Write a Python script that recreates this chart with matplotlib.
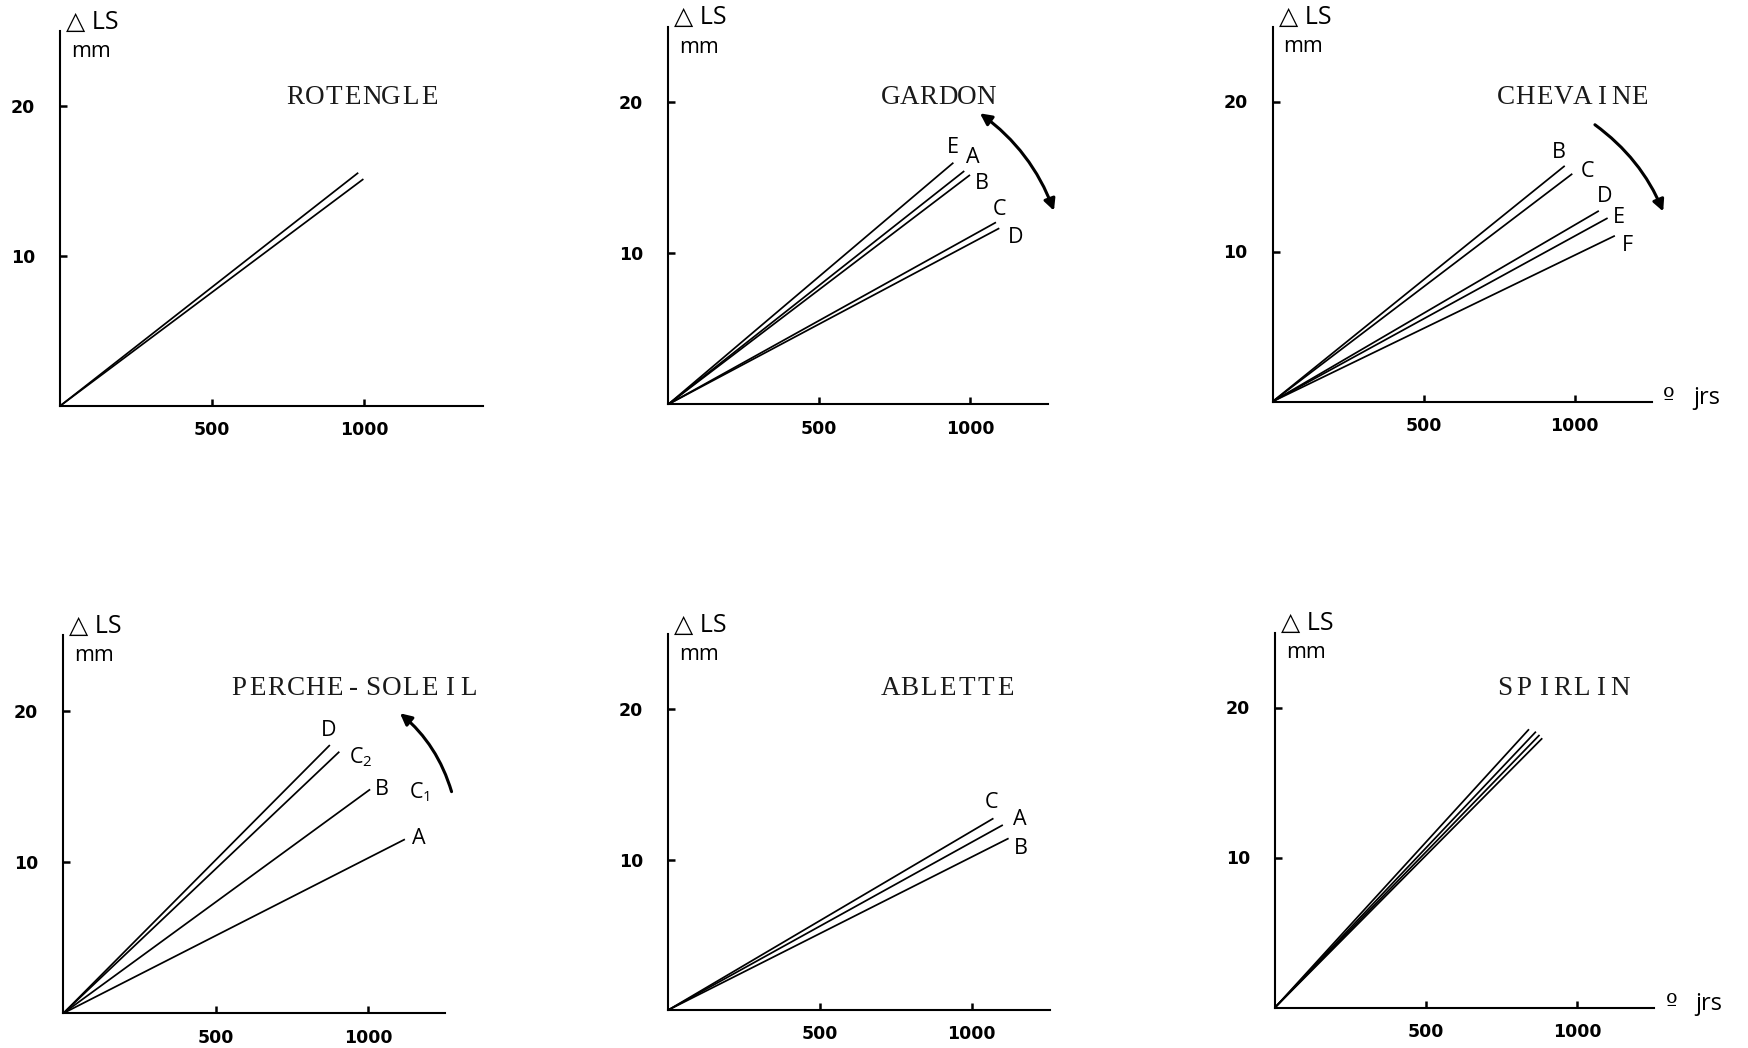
import matplotlib
matplotlib.use('Agg')
import matplotlib.pyplot as plt

W, H = 1749, 1048

# ---------------- data ----------------
titles = ['ROTENGLE', 'GARDON', 'CHEVAINE', 'PERCHE-SOLEIL', 'ABLETTE', 'SPIRLIN']
x_ticks = [500, 1000]
y_ticks = [10, 20]

rot_series = ['', '']
rot_x = [981, 998]
rot_y = [15.55, 15.13]

gar_series = ['E', 'A', 'B', 'C', 'D']
gar_x = [944, 980, 999, 1085, 1096]
gar_y = [16.0, 15.45, 15.19, 12.05, 11.66]

che_series = ['B', 'C', 'D', 'E', 'F']
che_x = [967, 992, 1080, 1109, 1133]
che_y = [15.71, 15.18, 12.71, 12.23, 11.05]

per_series = ['D', r'C$\mathregular{_2}$', 'B', 'A']
per_x = [874, 905, 1006, 1120]
per_y = [17.73, 17.29, 14.80, 11.50]

abl_series = ['C', 'A', 'B']
abl_x = [1072, 1103, 1122]
abl_y = [12.75, 12.31, 11.42]

spi_series = ['', '', '', '']
spi_x = [841, 864, 876, 885]
spi_y = [18.55, 18.39, 18.17, 17.95]

panels_data = [
    (rot_series, rot_x, rot_y),
    (gar_series, gar_x, gar_y),
    (che_series, che_x, che_y),
    (per_series, per_x, per_y),
    (abl_series, abl_x, abl_y),
    (spi_series, spi_x, spi_y),
]

# ---------------- layout / style ----------------
# origin pixel (x, y from top), px per x unit, px per y unit, x max
geom = [
    (60.0, 406.0, 0.304, 15.0, 1391),
    (668.3, 404.3, 0.302, 15.1, 1256),
    (1272.7, 401.5, 0.302, 15.0, 1255),
    (63.3, 1013.3, 0.305, 15.13, 1251),
    (668.3, 1010.0, 0.3033, 15.03, 1258),
    (1275.0, 1007.5, 0.302, 15.0, 1255),
]
YMAX = 25
title_pos = [(994, 20.8), (894, 20.55), (994, 20.5), (951, 21.7), (921, 21.6), (952, 21.45)]
TITLE_PITCH = 13.8  # points between typewriter characters

label_off = [
    [],
    [(-0.7, 11.1), (5.8, 9.9), (8.4, -6.0), (2.9, 8.9), (11.5, -6.5)],
    [(-4.5, 9.9), (11.3, 1.4), (4.1, 10.1), (7.9, 0.7), (9.1, -7.2)],
    [(-1.2, 10.8), (15.4, -3.6), (8.4, 0.0), (10.0, 0.7)],
    [(-1.2, 11.5), (12.2, 4.3), (8.9, -7.2)],
    [],
]

SANS = ['Open Sans', 'DejaVu Sans']
SERIF = ['Liberation Serif', 'DejaVu Serif']

fig = plt.figure(figsize=(W / 100, H / 100), dpi=100)
fig.patch.set_facecolor('white')

axes = []
for i, (ox, oy, sx, sy, xmax) in enumerate(geom):
    rect = [ox / W, (H - oy) / H, xmax * sx / W, YMAX * sy / H]
    ax = fig.add_axes(rect)
    ax.set_xlim(0, xmax)
    ax.set_ylim(0, YMAX)
    ax.patch.set_alpha(0)
    for s in ['top', 'right']:
        ax.spines[s].set_visible(False)
    for s in ['left', 'bottom']:
        ax.spines[s].set_linewidth(1.5)
    ax.set_xticks(x_ticks)
    ax.set_yticks(y_ticks)
    ax.tick_params(axis='both', direction='in', length=5, width=1.8)
    ax.tick_params(axis='y', pad=18)
    ax.tick_params(axis='x', pad=11)
    for lab in ax.get_xticklabels() + ax.get_yticklabels():
        lab.set_fontweight('bold')
        lab.set_fontsize(12.5)
        lab.set_family('DejaVu Sans')

    series, xs, ys = panels_data[i]
    for j, (lbl, xe, ye) in enumerate(zip(series, xs, ys)):
        ax.plot([0, xe], [0, ye], color='black', lw=1.25, solid_capstyle='butt',
                clip_on=False)
        if lbl:
            dx, dy = label_off[i][j]
            ax.annotate(lbl, xy=(xe, ye), xytext=(dx, dy), textcoords='offset points',
                        ha='center', va='center', fontsize=15.5, family=SANS,
                        annotation_clip=False)

    # typewriter-style title, fixed pitch
    t = titles[i]
    n = len(t)
    for k, ch in enumerate(t):
        ax.annotate(ch, xy=title_pos[i], xytext=((k - (n - 1) / 2) * TITLE_PITCH, -7),
                    textcoords='offset points', ha='center', va='baseline',
                    fontsize=19.5, family=SERIF, color='#1a1a1a',
                    annotation_clip=False)

    ax.text(20, 25.6, '△ LS', ha='left', va='center', fontsize=18, family=SANS,
            clip_on=False)
    ax.text(36, 23.65, 'mm', ha='left', va='center', fontsize=15.5, family=SANS,
            clip_on=False)
    axes.append(ax)

# extra label C1 on the B line of PERCHE-SOLEIL
axes[3].annotate(r'C$\mathregular{_1}$', xy=(per_x[2], per_y[2]), xytext=(35.3, -1.7),
                 textcoords='offset points', ha='center', va='center',
                 fontsize=15.5, family=SANS, annotation_clip=False)

# degree-days unit
for k in (2, 5):
    axes[k].text(1293, -0.2, 'º', ha='left', va='baseline', fontsize=18,
                 family=['DejaVu Sans'], clip_on=False)
    axes[k].text(1392, -0.2, 'jrs', ha='left', va='baseline', fontsize=17,
                 family=SANS, clip_on=False)

# arrows
arrow_kw = dict(color='black', lw=2.2, mutation_scale=17, shrinkA=0, shrinkB=0)
axes[1].annotate('', xy=(1277, 12.82), xytext=(1032, 19.27),
                 arrowprops=dict(arrowstyle='<|-|>', connectionstyle='arc3,rad=-0.15', **arrow_kw),
                 annotation_clip=False)
axes[2].annotate('', xy=(1293, 12.67), xytext=(1067, 18.45),
                 arrowprops=dict(arrowstyle='-|>', connectionstyle='arc3,rad=-0.14', **arrow_kw),
                 annotation_clip=False)
axes[3].annotate('', xy=(1104, 19.83), xytext=(1273, 14.65),
                 arrowprops=dict(arrowstyle='-|>', connectionstyle='arc3,rad=0.15', **arrow_kw),
                 annotation_clip=False)

fig.savefig('out.png', dpi=100, facecolor='white')
